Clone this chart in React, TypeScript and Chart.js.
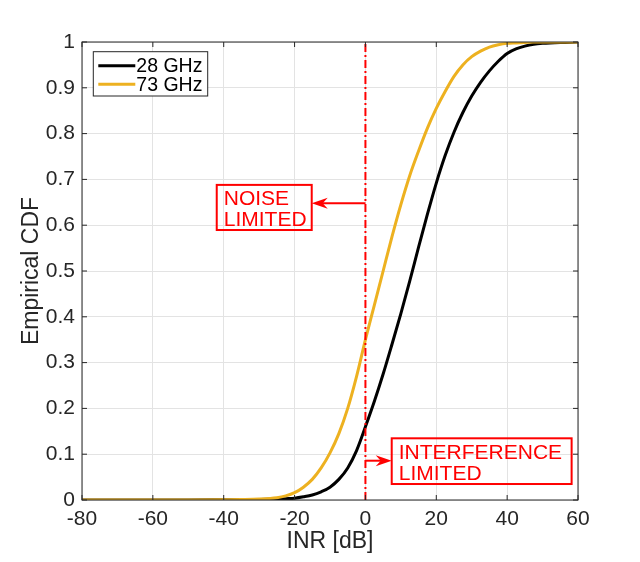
import { useEffect, useRef } from 'react';
import { Chart, registerables } from 'chart.js';

Chart.register(...registerables);

// ---- data ----
const inrDb = [-80, -60, -50, -40, -35, -30, -25, -22.5, -20, -17.5, -15, -12.5, -10, -7.5, -5, -2.5, 0, 2.5, 5, 7.5, 10, 12.5, 15, 17.5, 20, 22.5, 25, 27.5, 30, 32.5, 35, 37.5, 40, 42.5, 45, 47.5, 50, 55, 60];
const cdf28GHz = [0, 0, 0, 0.0005, 0.0008, 0.001, 0.002, 0.003, 0.004, 0.007, 0.011, 0.018, 0.028, 0.045, 0.07, 0.108, 0.16, 0.215, 0.275, 0.34, 0.407, 0.478, 0.552, 0.624, 0.692, 0.752, 0.803, 0.846, 0.882, 0.912, 0.937, 0.958, 0.975, 0.985, 0.991, 0.995, 0.997, 0.999, 1];
const cdf73GHz = [0, 0, 0.0002, 0.0006, 0.001, 0.002, 0.005, 0.009, 0.016, 0.028, 0.045, 0.07, 0.103, 0.145, 0.2, 0.27, 0.35, 0.425, 0.5, 0.575, 0.645, 0.708, 0.762, 0.812, 0.855, 0.892, 0.925, 0.95, 0.968, 0.98, 0.989, 0.994, 0.997, 0.998, 0.999, 1, 1, 1, 1];
const dividerX = [0, 0];
const dividerY = [0, 1];
const seriesLabels = ['28 GHz', '73 GHz'];
const xTitle = 'INR [dB]';
const yTitle = 'Empirical CDF';
const noiseText = ['NOISE', 'LIMITED'];
const interferenceText = ['INTERFERENCE', 'LIMITED'];

// ---- annotation geometry (data units) ----
const noiseBox = { x1: -41.97, x2: -15.16, yTop: 0.688, yBottom: 0.5895, arrowY: 0.6478 };
const interfBox = { x1: 7.42, x2: 58.2, yTop: 0.1347, yBottom: 0.0349, arrowY: 0.0858 };

const FONT = '"Liberation Sans", Arial, Helvetica, sans-serif';
const AXIS = '#262626';
const GRID = '#e3e3e3';
const RED = '#ff0000';
const BLACK = '#000000';
const YELLOW = '#EDB120';

function drawArrow(ctx: CanvasRenderingContext2D, x0: number, y: number, x1: number) {
  const dir = Math.sign(x1 - x0);
  ctx.beginPath();
  ctx.moveTo(x0, y);
  ctx.lineTo(x1 - dir * 9, y);
  ctx.stroke();
  ctx.beginPath();
  ctx.moveTo(x1, y);
  ctx.lineTo(x1 - dir * 16, y - 5.5);
  ctx.lineTo(x1 - dir * 11, y);
  ctx.lineTo(x1 - dir * 16, y + 5.5);
  ctx.closePath();
  ctx.fill();
}

const decor = {
  id: 'decor',
  afterDatasetsDraw(chart: any) {
    const { ctx, chartArea: a, scales } = chart;
    const xs = scales.x;
    const ys = scales.y;
    ctx.save();
    // axes box
    ctx.strokeStyle = AXIS;
    ctx.lineWidth = 1;
    ctx.strokeRect(a.left, a.top, a.right - a.left, a.bottom - a.top);
    // inward ticks
    const tl = 5;
    ctx.beginPath();
    xs.ticks.forEach((t: any) => {
      const px = xs.getPixelForValue(t.value);
      ctx.moveTo(px, a.bottom);
      ctx.lineTo(px, a.bottom - tl);
      ctx.moveTo(px, a.top);
      ctx.lineTo(px, a.top + tl);
    });
    ys.ticks.forEach((t: any) => {
      const py = ys.getPixelForValue(t.value);
      ctx.moveTo(a.left, py);
      ctx.lineTo(a.left + tl, py);
      ctx.moveTo(a.right, py);
      ctx.lineTo(a.right - tl, py);
    });
    ctx.stroke();

    // annotations
    const x0 = xs.getPixelForValue(0);
    const drawBox = (b: any, lines: string[], arrowTo: 'left' | 'right') => {
      const l = xs.getPixelForValue(b.x1);
      const r = xs.getPixelForValue(b.x2);
      const t = ys.getPixelForValue(b.yTop);
      const btm = ys.getPixelForValue(b.yBottom);
      ctx.strokeStyle = RED;
      ctx.fillStyle = RED;
      ctx.lineWidth = 2;
      ctx.strokeRect(l, t, r - l, btm - t);
      ctx.font = `21px ${FONT}`;
      ctx.textAlign = 'left';
      ctx.textBaseline = 'alphabetic';
      ctx.fillText(lines[0], l + 7, t + 20.5);
      ctx.fillText(lines[1], l + 7, t + 41.5);
      const ay = ys.getPixelForValue(b.arrowY);
      drawArrow(ctx, x0, ay, arrowTo === 'left' ? r : l);
    };
    drawBox(noiseBox, noiseText, 'left');
    drawBox(interfBox, interferenceText, 'right');

    // legend
    const lx = a.left + 11.3;
    const ly = a.top + 9.7;
    const lw = 114.4;
    const lh = 44.3;
    ctx.fillStyle = '#ffffff';
    ctx.fillRect(lx, ly, lw, lh);
    ctx.strokeStyle = AXIS;
    ctx.lineWidth = 1;
    ctx.strokeRect(lx, ly, lw, lh);
    const rows = [ly + 14, ly + 32.6];
    const colors = [BLACK, YELLOW];
    ctx.font = `19.5px ${FONT}`;
    ctx.textBaseline = 'middle';
    ctx.textAlign = 'left';
    rows.forEach((ry, i) => {
      ctx.strokeStyle = colors[i];
      ctx.lineWidth = 3;
      ctx.beginPath();
      ctx.moveTo(lx + 5, ry);
      ctx.lineTo(lx + 42, ry);
      ctx.stroke();
      ctx.fillStyle = '#000000';
      ctx.fillText(seriesLabels[i], lx + 43, ry + 1);
    });
    ctx.restore();
  },
};

export default function App() {
  const ref = useRef<HTMLCanvasElement | null>(null);
  useEffect(() => {
    if (!ref.current) return;
    const chart = new Chart(ref.current, {
      type: 'line',
      data: {
        datasets: [
          {
            label: 'divider',
            data: dividerX.map((x, i) => ({ x, y: dividerY[i] })),
            borderColor: RED,
            borderWidth: 2,
            borderDash: [8, 3, 2, 3],
            pointRadius: 0,
            order: 1,
          },
          {
            label: seriesLabels[1],
            data: inrDb.map((x, i) => ({ x, y: cdf73GHz[i] })),
            borderColor: YELLOW,
            borderWidth: 3,
            pointRadius: 0,
            cubicInterpolationMode: 'monotone',
            order: 2,
          },
          {
            label: seriesLabels[0],
            data: inrDb.map((x, i) => ({ x, y: cdf28GHz[i] })),
            borderColor: BLACK,
            borderWidth: 3,
            pointRadius: 0,
            cubicInterpolationMode: 'monotone',
            order: 3,
          },
        ],
      },
      options: {
        responsive: false,
        animation: false,
        layout: { padding: { top: 42, right: 62, left: 0, bottom: 0 } },
        plugins: { legend: { display: false }, tooltip: { enabled: false } },
        scales: {
          x: {
            type: 'linear',
            min: -80,
            max: 60,
            ticks: { stepSize: 20, color: AXIS, font: { family: FONT, size: 21 }, padding: 7, maxRotation: 0 },
            grid: { color: GRID, drawTicks: false },
            border: { display: false },
            title: { display: true, text: xTitle, color: AXIS, font: { family: FONT, size: 23 }, padding: { top: 0, bottom: 7 } },
            afterFit: (s: any) => { s.height = 62; },
          },
          y: {
            type: 'linear',
            min: 0,
            max: 1,
            ticks: {
              stepSize: 0.1,
              color: AXIS,
              font: { family: FONT, size: 21 },
              padding: 7,
              callback: (v: any) => String(Math.round(Number(v) * 10) / 10),
            },
            grid: { color: GRID, drawTicks: false },
            border: { display: false },
            title: { display: true, text: yTitle, color: AXIS, font: { family: FONT, size: 23 }, padding: { top: 18, bottom: 0 } },
            afterFit: (s: any) => { s.width = 82; },
          },
        },
      },
      plugins: [decor],
    } as any);
    return () => chart.destroy();
  }, []);
  return (
    <div style={{ position: 'absolute', left: 0, top: 0, width: 640, height: 562, background: '#fff' }}>
      <canvas ref={ref} width={640} height={562} />
    </div>
  );
}
